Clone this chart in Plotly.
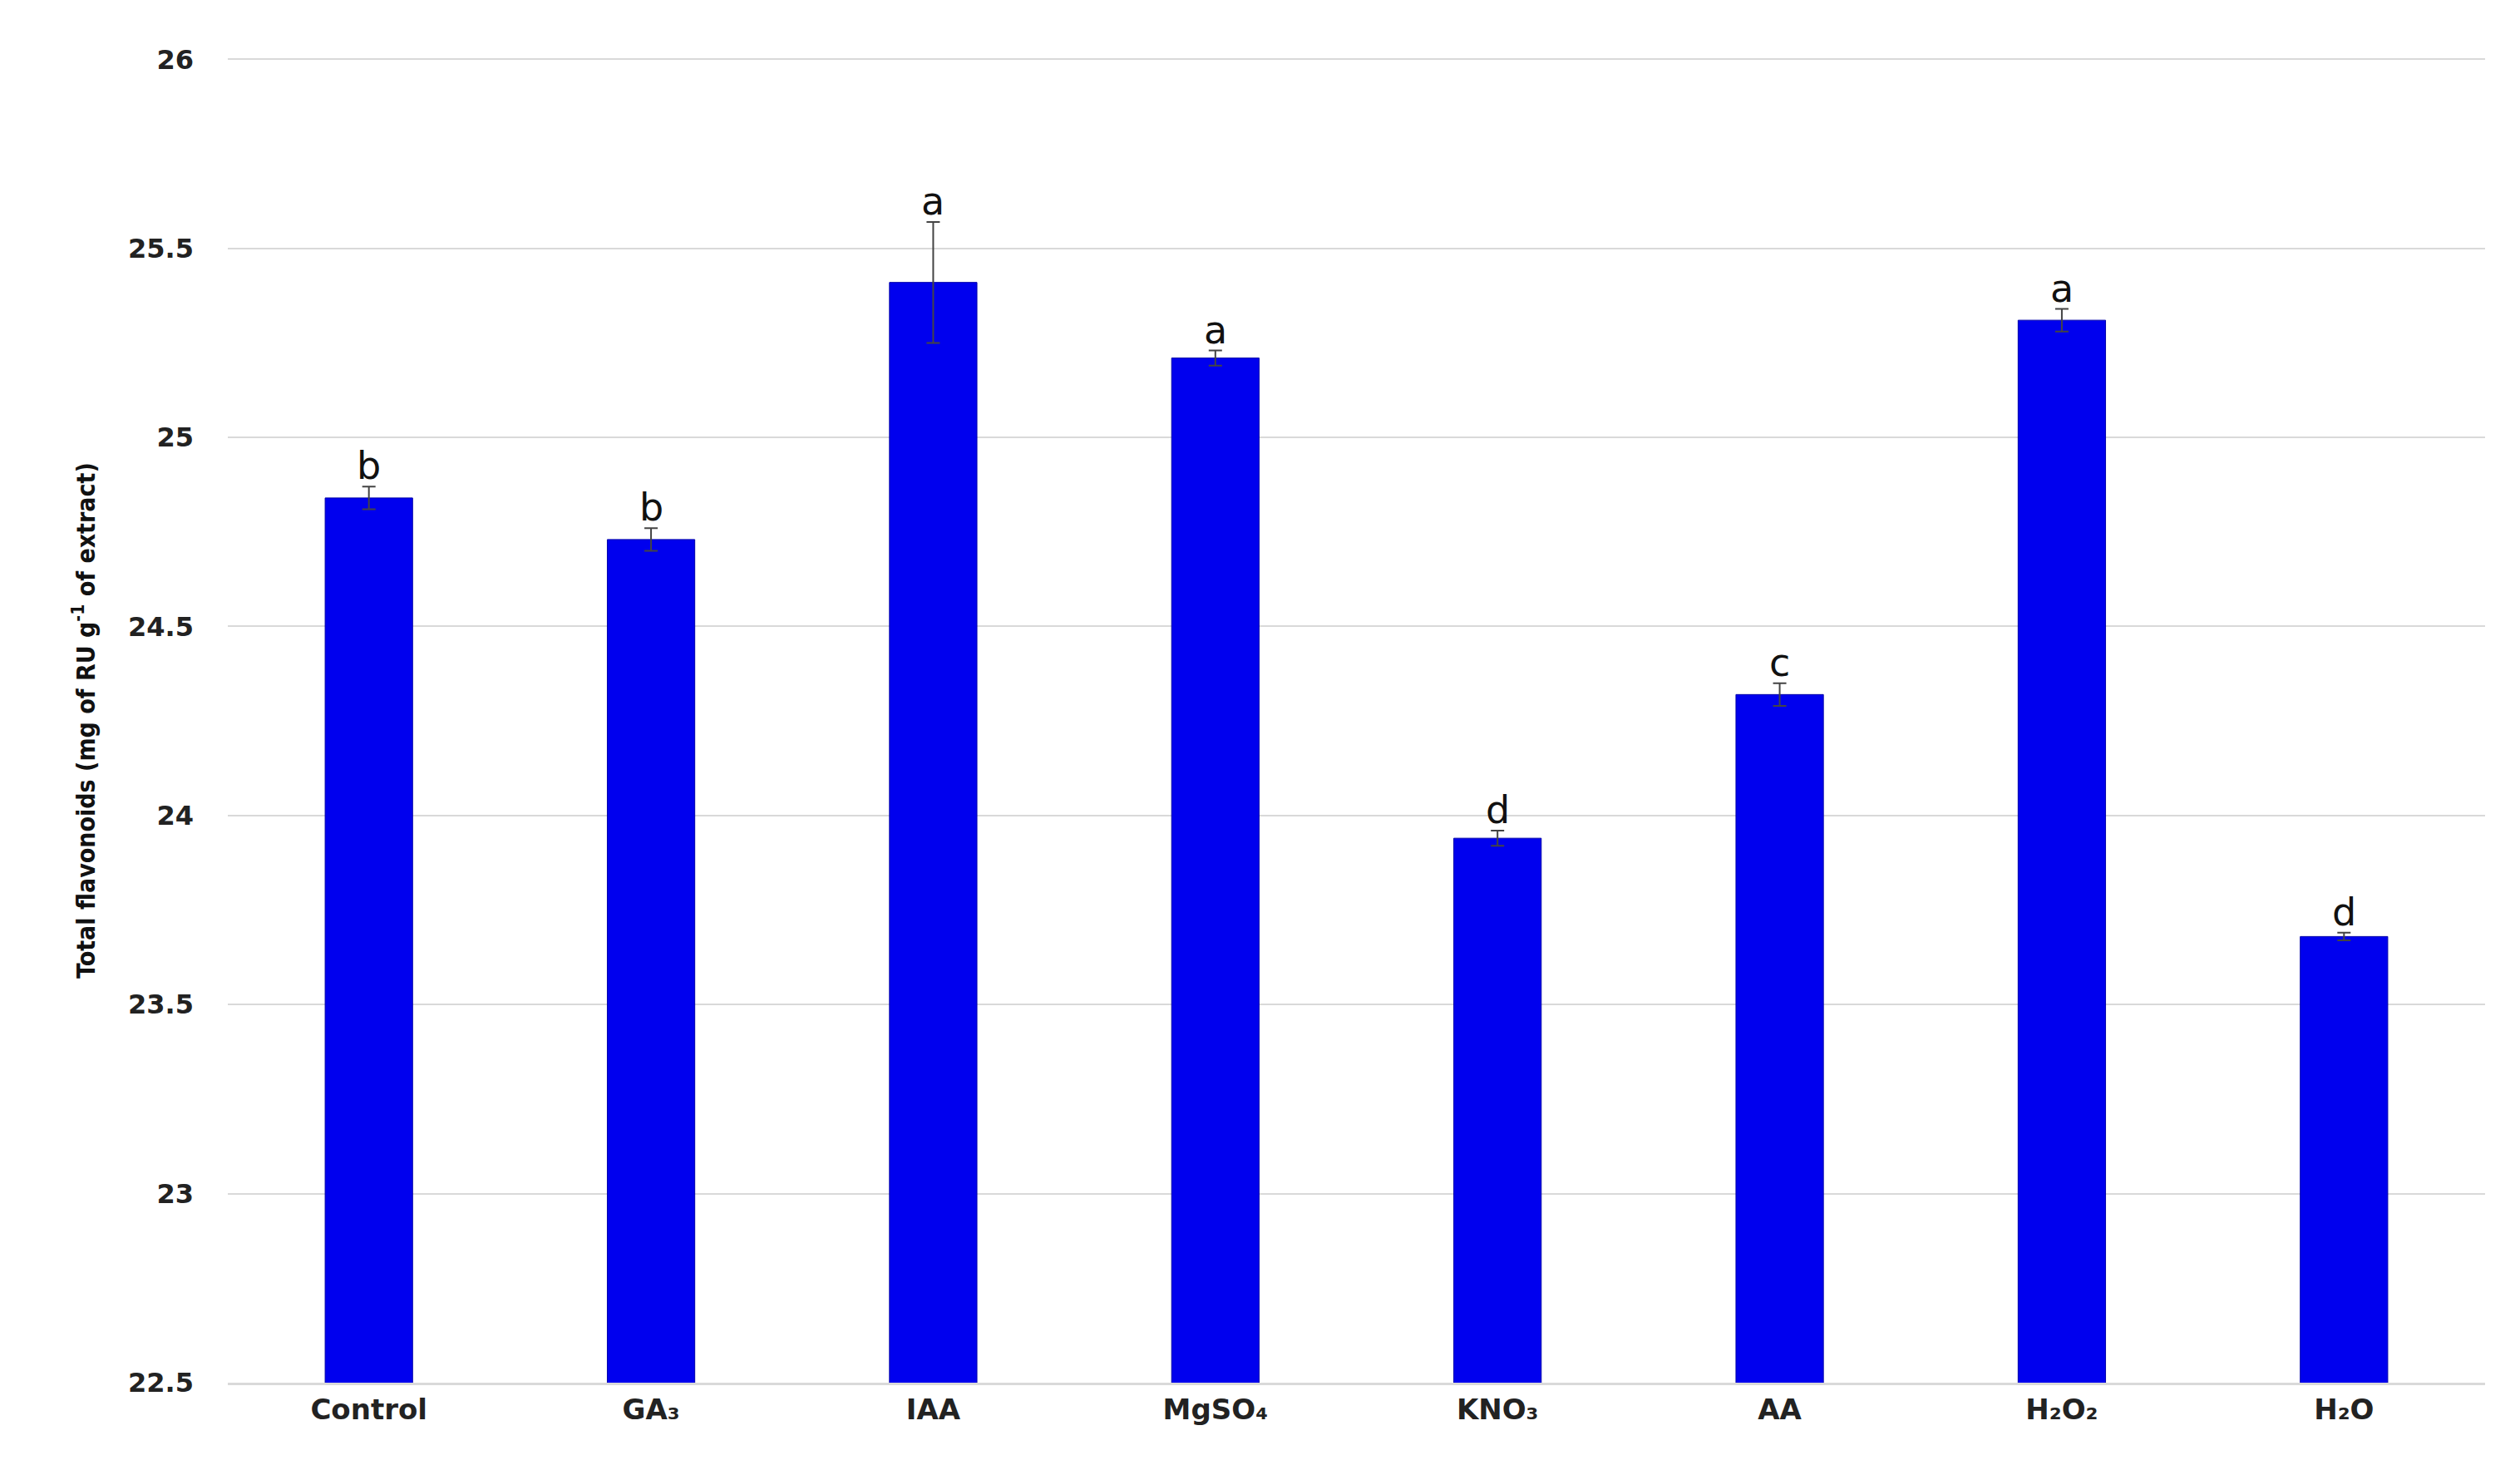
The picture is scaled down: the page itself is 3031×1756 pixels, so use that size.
import plotly.graph_objects as go

treatments = ["Control", "GA₃", "IAA", "MgSO₄", "KNO₃", "AA", "H₂O₂", "H₂O"]
flavonoids = [24.84, 24.73, 25.41, 25.21, 23.94, 24.32, 25.31, 23.68]
errors = [0.03, 0.03, 0.16, 0.02, 0.02, 0.03, 0.03, 0.01]
letters = ["b", "b", "a", "a", "d", "c", "a", "d"]

fig = go.Figure(go.Bar(
    x=treatments, y=flavonoids,
    marker=dict(color="#0000ee", line=dict(color="#0000aa", width=1)),
    error_y=dict(type="data", array=errors, color="#444", thickness=2, width=8),
))

for t, v, e, l in zip(treatments, flavonoids, errors, letters):
    fig.add_annotation(x=t, y=v + e, text=l, showarrow=False, yanchor="bottom",
                       yshift=-4, font=dict(family="DejaVu Sans", size=46, color="#111"))

fig.update_layout(
    width=3031, height=1756,
    paper_bgcolor="white", plot_bgcolor="white",
    margin=dict(l=266, r=50, t=62, b=101),
    bargap=0.69, showlegend=False,
)
fig.update_yaxes(
    range=[22.5, 26.003], dtick=0.5, tick0=22.5, showgrid=True, gridcolor="#d9d9d9", gridwidth=2,
    zeroline=False, showline=False,
    tickfont=dict(family="DejaVu Sans", size=32, color="#222", weight="bold"),
    ticklabelstandoff=40,
    title=dict(text="Total flavonoids (mg of RU g<sup>-1</sup> of extract)",
               font=dict(family="DejaVu Sans Condensed", size=30, color="#111", weight="bold"),
               standoff=30),
)
fig.update_xaxes(
    showline=True, linecolor="#d9d9d9", linewidth=3,
    tickfont=dict(family="DejaVu Sans", size=34, color="#222", weight="bold"),
)

fig.write_html("out.html")
